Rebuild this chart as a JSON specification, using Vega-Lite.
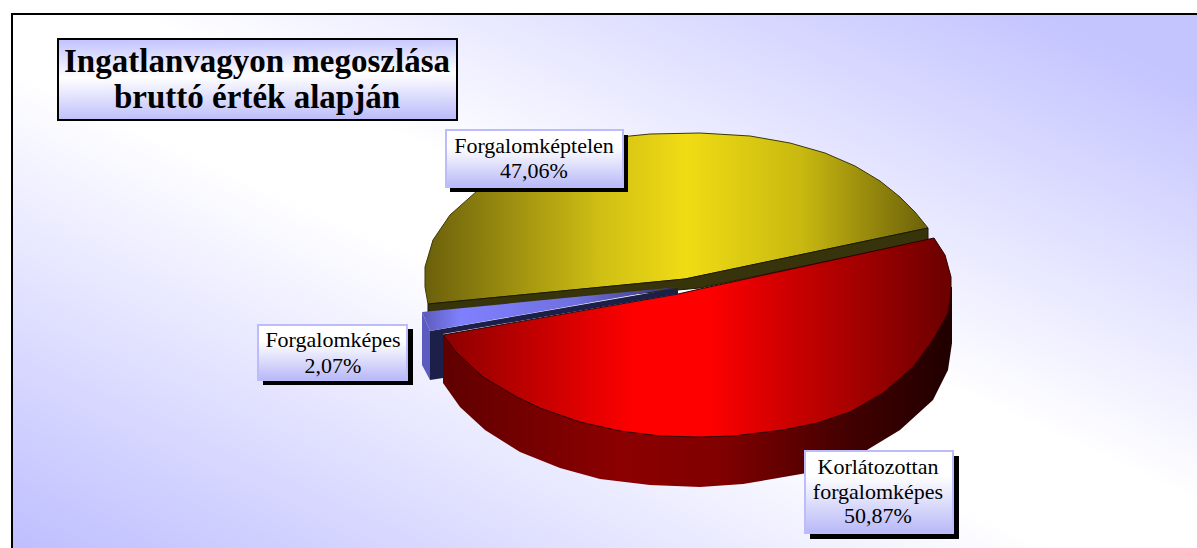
{"$schema":"https://vega.github.io/schema/vega-lite/v6.json","width":1197,"height":548,"padding":0,"autosize":{"type":"none"},"background":"#ffffff","config":{"view":{"stroke":null}},
"datasets":{
"frame":[{"x":12,"y":14,"x2":1215,"y2":566}],
"titleBox":[{"x":58,"y":39,"x2":457,"y2":120}],
"shadows":[{"x":450,"y":135,"x2":628,"y2":192},{"x":263,"y":329,"x2":413,"y2":385},{"x":810,"y":456,"x2":959,"y2":539}],
"boxes":[{"x":446,"y":130,"x2":623,"y2":187},{"x":258,"y":325,"x2":407,"y2":380},{"x":805,"y":451,"x2":953,"y2":533}],
"yellowTop":[{"i":1,"x":928,"y":228},{"i":2,"x":915,"y":212},{"i":3,"x":900,"y":197},{"i":4,"x":880,"y":181},{"i":5,"x":855,"y":166},{"i":6,"x":825,"y":153},{"i":7,"x":790,"y":143},{"i":8,"x":750,"y":136},{"i":9,"x":700,"y":133},{"i":10,"x":650,"y":134},{"i":11,"x":610,"y":138},{"i":12,"x":570,"y":146},{"i":13,"x":530,"y":158},{"i":14,"x":500,"y":172},{"i":15,"x":477,"y":191},{"i":16,"x":450,"y":215},{"i":17,"x":433,"y":240},{"i":18,"x":425,"y":267},{"i":19,"x":425,"y":287},{"i":20,"x":428,"y":304},{"i":21,"x":685,"y":279},{"i":22,"x":928,"y":228}],
"yellowWall":[{"i":1,"x":428,"y":304},{"i":2,"x":685,"y":279},{"i":3,"x":928,"y":228},{"i":4,"x":928,"y":240},{"i":5,"x":700,"y":288},{"i":6,"x":428,"y":312},{"i":7,"x":428,"y":304}],
"redSide":[{"i":1,"x":443,"y":335},{"i":2,"x":443,"y":383},{"i":3,"x":460,"y":407},{"i":4,"x":485,"y":430},{"i":5,"x":520,"y":452},{"i":6,"x":560,"y":468},{"i":7,"x":600,"y":479},{"i":8,"x":650,"y":485},{"i":9,"x":700,"y":487},{"i":10,"x":743,"y":484},{"i":11,"x":807,"y":473},{"i":12,"x":867,"y":450},{"i":13,"x":900,"y":430},{"i":14,"x":933,"y":400},{"i":15,"x":948,"y":370},{"i":16,"x":952,"y":343},{"i":17,"x":952,"y":287},{"i":18,"x":700,"y":300},{"i":19,"x":443,"y":335}],
"redTop":[{"i":1,"x":934,"y":238},{"i":2,"x":945,"y":255},{"i":3,"x":951,"y":277},{"i":4,"x":951,"y":293},{"i":5,"x":948,"y":313},{"i":6,"x":933,"y":340},{"i":7,"x":913,"y":367},{"i":8,"x":883,"y":393},{"i":9,"x":850,"y":412},{"i":10,"x":817,"y":423},{"i":11,"x":783,"y":430},{"i":12,"x":733,"y":436},{"i":13,"x":700,"y":437},{"i":14,"x":660,"y":436},{"i":15,"x":620,"y":431},{"i":16,"x":580,"y":422},{"i":17,"x":540,"y":408},{"i":18,"x":517,"y":397},{"i":19,"x":483,"y":377},{"i":20,"x":457,"y":353},{"i":21,"x":443,"y":335},{"i":22,"x":678,"y":294},{"i":23,"x":700,"y":289},{"i":24,"x":934,"y":238}],
"blueSide":[{"i":1,"x":422,"y":312},{"i":2,"x":430,"y":331},{"i":3,"x":430,"y":380},{"i":4,"x":422,"y":365},{"i":5,"x":422,"y":312}],
"blueWall":[{"i":1,"x":430,"y":331},{"i":2,"x":678,"y":288},{"i":3,"x":678,"y":294},{"i":4,"x":443,"y":334},{"i":5,"x":443,"y":378},{"i":6,"x":430,"y":380},{"i":7,"x":430,"y":331}],
"blueTop":[{"i":1,"x":422,"y":312},{"i":2,"x":678,"y":287},{"i":3,"x":430,"y":331},{"i":4,"x":422,"y":312}],
"titleText":[{"x":257,"y":72,"line":"Ingatlanvagyon megoszlása"},{"x":257,"y":108,"line":"bruttó érték alapján"}],
"labelText":[{"x":534,"y":153,"line":"Forgalomképtelen"},{"x":534,"y":178,"line":"47,06%"},{"x":333,"y":347,"line":"Forgalomképes"},{"x":333,"y":373,"line":"2,07%"},{"x":878,"y":474,"line":"Korlátozottan"},{"x":878,"y":499,"line":"forgalomképes"},{"x":878,"y":523,"line":"50,87%"}]
},
"encoding":{"x":{"field":"x","type":"quantitative","axis":null,"scale":{"domain":[0,1197],"range":[0,1197],"nice":false,"zero":false}},"y":{"field":"y","type":"quantitative","axis":null,"scale":{"domain":[0,548],"range":[0,548],"nice":false,"zero":false}}},
"layer":[
{"data":{"name":"frame"},"mark":{"type":"rect","stroke":"#000000","strokeWidth":2,"fill":{"gradient":"linear","x1":0,"y1":1,"x2":1,"y2":0,"stops":[{"offset":0,"color":"#bcbcff"},{"offset":0.45,"color":"#ffffff"},{"offset":0.55,"color":"#ffffff"},{"offset":0.93,"color":"#c4c4ff"},{"offset":1,"color":"#c4c4ff"}]}},"encoding":{"x2":{"field":"x2"},"y2":{"field":"y2"}}},
{"data":{"name":"titleBox"},"mark":{"type":"rect","stroke":"#000000","strokeWidth":2,"fill":{"gradient":"linear","x1":0.47,"y1":0,"x2":0.53,"y2":1,"stops":[{"offset":0,"color":"#c4c4ff"},{"offset":0.45,"color":"#ffffff"},{"offset":1,"color":"#bcbcfa"}]}},"encoding":{"x2":{"field":"x2"},"y2":{"field":"y2"}}},
{"data":{"name":"yellowTop"},"mark":{"type":"line","strokeWidth":1,"stroke":"#3a3606","fill":{"gradient":"linear","x1":0,"y1":0,"x2":1,"y2":0,"stops":[{"offset":0,"color":"#6b600c"},{"offset":0.35,"color":"#d0bf14"},{"offset":0.52,"color":"#f0dc14"},{"offset":0.75,"color":"#c8b810"},{"offset":1,"color":"#6b600a"}]}},"encoding":{"order":{"field":"i"}}},
{"data":{"name":"yellowWall"},"mark":{"type":"line","strokeWidth":1,"stroke":"#1c1a02","fill":"#37330a"},"encoding":{"order":{"field":"i"}}},
{"data":{"name":"redSide"},"mark":{"type":"line","strokeWidth":0,"fill":{"gradient":"linear","x1":0,"y1":0,"x2":1,"y2":0,"stops":[{"offset":0,"color":"#600000"},{"offset":0.35,"color":"#8c0000"},{"offset":0.55,"color":"#800000"},{"offset":0.8,"color":"#420000"},{"offset":1,"color":"#200000"}]}},"encoding":{"order":{"field":"i"}}},
{"data":{"name":"redTop"},"mark":{"type":"line","strokeWidth":1,"stroke":"#300000","fill":{"gradient":"linear","x1":0,"y1":0,"x2":1,"y2":0,"stops":[{"offset":0,"color":"#8c0000"},{"offset":0.38,"color":"#ff0000"},{"offset":0.52,"color":"#ff0000"},{"offset":1,"color":"#6a0000"}]}},"encoding":{"order":{"field":"i"}}},
{"data":{"name":"blueSide"},"mark":{"type":"line","strokeWidth":0,"fill":"#5c5cc0"},"encoding":{"order":{"field":"i"}}},
{"data":{"name":"blueWall"},"mark":{"type":"line","strokeWidth":0,"fill":"#1c2048"},"encoding":{"order":{"field":"i"}}},
{"data":{"name":"blueTop"},"mark":{"type":"line","strokeWidth":0,"fill":{"gradient":"linear","x1":0,"y1":0,"x2":1,"y2":0,"stops":[{"offset":0,"color":"#5a5ab8"},{"offset":0.15,"color":"#8080ff"},{"offset":0.6,"color":"#7070e0"},{"offset":1,"color":"#34346c"}]}},"encoding":{"order":{"field":"i"}}},
{"data":{"name":"shadows"},"mark":{"type":"rect","fill":"#000000"},"encoding":{"x2":{"field":"x2"},"y2":{"field":"y2"}}},
{"data":{"name":"boxes"},"mark":{"type":"rect","stroke":"#bcbcfa","strokeWidth":2,"fill":{"gradient":"linear","x1":0,"y1":0,"x2":0,"y2":1,"stops":[{"offset":0,"color":"#ffffff"},{"offset":0.3,"color":"#ffffff"},{"offset":1,"color":"#b8b8f8"}]}},"encoding":{"x2":{"field":"x2"},"y2":{"field":"y2"}}},
{"data":{"name":"titleText"},"mark":{"type":"text","font":"Liberation Serif","fontWeight":"bold","fontSize":33,"align":"center","baseline":"alphabetic","fill":"#000000"},"encoding":{"text":{"field":"line"}}},
{"data":{"name":"labelText"},"mark":{"type":"text","font":"Liberation Serif","fontSize":22,"align":"center","baseline":"alphabetic","fill":"#000000"},"encoding":{"text":{"field":"line"}}}
]}
